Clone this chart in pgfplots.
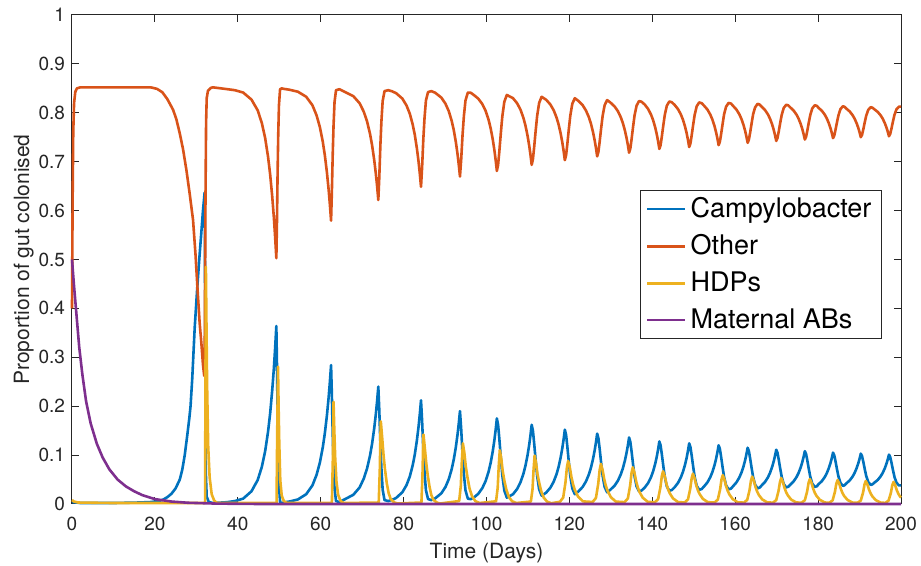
\documentclass[border=0pt]{standalone}
\usepackage{fontspec}
\setmainfont{TeX Gyre Heros}
\usepackage{pgfplots}
\pgfplotsset{compat=1.18}
\definecolor{mblue}{rgb}{0,0.447,0.741}
\definecolor{morange}{rgb}{0.85,0.325,0.098}
\definecolor{myellow}{rgb}{0.929,0.694,0.125}
\definecolor{mpurple}{rgb}{0.494,0.184,0.556}
\definecolor{axgray}{rgb}{0.15,0.15,0.15}
\begin{document}
\begin{tikzpicture}
\begin{axis}[
  at={(0,0)}, anchor=south west,
  scale only axis, width=414.5pt, height=244.5pt,
  xmin=0, xmax=200, ymin=0, ymax=1,
  xtick={0,20,...,200}, ytick={0,0.1,...,1},
  yticklabels={0,0.1,0.2,0.3,0.4,0.5,0.6,0.7,0.8,0.9,1},
  tick align=inside, major tick length=3.5pt,
  axis line style={axgray, line width=0.5pt},
  every tick/.style={axgray, line width=0.5pt},
  tick label style={font=\fontsize{9.5}{11}\selectfont, text=axgray},
  /pgf/number format/assume math mode=true,
  xticklabel style={yshift=-3pt},
  xlabel={Time (Days)},
  ylabel={Proportion of gut colonised},
  xlabel style={at={(axis description cs:0.5,0)}, anchor=north, yshift=-19.5pt, inner sep=0pt, font=\fontsize{10.5}{12}\selectfont, text=axgray},
  ylabel style={at={(axis description cs:0,0.5)}, rotate=0, anchor=south, yshift=19pt, inner sep=0pt, font=\fontsize{10.5}{12}\selectfont, text=axgray},
  clip=false,
  legend cell align=left,
  legend style={at={(0.977,0.642)}, anchor=north east, draw=axgray, line width=0.5pt, fill=white,
    font=\fontsize{13.5}{15}\selectfont, inner xsep=3pt, inner ysep=1.5pt, row sep=3pt},
  legend image code/.code={\draw[#1] (0pt,0pt) -- (19pt,0pt);},
  every axis plot/.append style={line width=1.3pt, line join=round},
]
\addplot[mblue] coordinates {
(0,0.004) (2,0.002) (10,0.002) (16,0.003) (19,0.004) (20,0.005) (21,0.006) (22,0.009) (23,0.014) (24,0.021) (25,0.032) (26,0.05) (26.6,0.07) (27.2,0.1) (27.8,0.14) (28.3,0.175) (28.6,0.2) (29,0.255) (29.6,0.36) (30.2,0.44) (30.7,0.5) (31.2,0.555) (31.6,0.6) (32,0.637) (32.1,0.45) (32.2,0.2) (32.3,0.06) (32.5,0.015) (33,0.004) (34,0.002)
(37.3,0.0036) (39.3,0.006) (41.3,0.011) (43.3,0.026) (44.8,0.049) (45.8,0.076) (46.6,0.108) (47.3,0.148) (47.8,0.185) (48.3,0.232) (48.7,0.277) (49,0.318) (49.3,0.364) (49.44,0.292) (49.6,0.183) (49.75,0.103) (49.93,0.038) (50.2,0.004) (50.6,0.002)
(51,0.003) (52.5,0.0051) (54.5,0.0093) (56.5,0.02) (58,0.038) (59,0.0595) (59.8,0.0846) (60.5,0.1157) (61,0.1447) (61.5,0.181) (61.9,0.2166) (62.2,0.248) (62.5,0.284) (62.68,0.228) (62.9,0.143) (63.1,0.081) (63.34,0.031) (63.7,0.006) (64.5,0.004)
(65.9,0.01) (67.9,0.019) (69.4,0.034) (70.4,0.0521) (71.2,0.0731) (71.9,0.099) (72.4,0.1234) (72.9,0.154) (73.3,0.1836) (73.6,0.2098) (73.9,0.24) (74.13,0.193) (74.4,0.123) (74.65,0.072) (74.95,0.029) (75.4,0.008) (76.3,0.006)
(77.2,0.0083) (78.2,0.0124) (79.7,0.024) (80.7,0.0385) (81.5,0.0563) (82.2,0.0793) (82.7,0.1011) (83.2,0.1296) (83.6,0.1576) (83.9,0.1828) (84.2,0.212) (84.46,0.171) (84.76,0.11) (85.05,0.065) (85.39,0.028) (85.9,0.01) (86.7,0.008)
(87.6,0.0114) (89.1,0.0218) (90.1,0.0348) (90.9,0.0507) (91.6,0.0712) (92.1,0.0908) (92.6,0.1161) (93,0.1413) (93.3,0.1639) (93.6,0.19) (93.89,0.154) (94.23,0.1) (94.55,0.0604) (94.93,0.028) (95.5,0.011) (96.2,0.01)
(97,0.0136) (98,0.0207) (99,0.0326) (99.8,0.0472) (100.5,0.066) (101,0.084) (101.5,0.1072) (101.9,0.1304) (102.2,0.151) (102.5,0.175) (102.8,0.162) (103.1,0.133) (103.46,0.094) (103.82,0.0584) (104.3,0.0276) (104.9,0.013)
(106.4,0.02) (107.4,0.0309) (108.2,0.0444) (108.9,0.0617) (109.4,0.0782) (109.9,0.0996) (110.3,0.1209) (110.6,0.1399) (110.9,0.162) (111.2,0.15) (111.5,0.124) (111.86,0.0895) (112.22,0.0576) (112.7,0.03) (113.3,0.017)
(114.4,0.0233) (115.4,0.0332) (116.2,0.0455) (116.9,0.0611) (117.4,0.0761) (117.9,0.0955) (118.3,0.1147) (118.6,0.132) (118.9,0.152) (119.2,0.1414) (119.5,0.1177) (119.86,0.086) (120.22,0.057) (120.7,0.0319) (121.3,0.02)
(122.2,0.0258) (123.2,0.0349) (124,0.0462) (124.7,0.0605) (125.2,0.0743) (125.7,0.0921) (126.1,0.1098) (126.4,0.1256) (126.7,0.144) (127,0.1344) (127.3,0.1128) (127.66,0.084) (128.02,0.0576) (128.5,0.0348) (129.1,0.024)
(129.9,0.0293) (130.9,0.0375) (131.7,0.0476) (132.4,0.0606) (132.9,0.073) (133.4,0.0891) (133.8,0.1051) (134.1,0.1194) (134.4,0.136) (134.7,0.1272) (135,0.1074) (135.36,0.081) (135.72,0.0568) (136.2,0.0359) (136.8,0.026)
(137.4,0.0275) (138.2,0.0338) (139,0.043) (139.7,0.0551) (140.2,0.0669) (140.7,0.0822) (141.1,0.0977) (141.4,0.1117) (141.7,0.128) (142,0.1199) (142.3,0.1017) (142.66,0.0775) (143.02,0.0553) (143.5,0.0361) (144.1,0.027)
(144.7,0.0285) (145.4,0.0344) (146.2,0.0432) (146.9,0.0547) (147.4,0.0659) (147.9,0.0804) (148.3,0.0951) (148.6,0.1085) (148.9,0.124) (149.2,0.1164) (149.5,0.0993) (149.86,0.0765) (150.22,0.0556) (150.7,0.0375) (151.3,0.029)
(151.9,0.0305) (152.5,0.036) (153.3,0.0442) (154,0.055) (154.5,0.0655) (155,0.0791) (155.4,0.0929) (155.7,0.1054) (156,0.12) (156.3,0.1128) (156.6,0.0966) (156.96,0.075) (157.32,0.0552) (157.8,0.0381) (158.4,0.03)
(159,0.0315) (159.5,0.0365) (160.3,0.0442) (161,0.0543) (161.5,0.0641) (162,0.0768) (162.4,0.0897) (162.7,0.1014) (163,0.115) (163.3,0.1084) (163.6,0.0934) (163.96,0.0735) (164.32,0.0552) (164.8,0.0395) (165.4,0.032)
(165.9,0.0335) (166.4,0.0381) (167.2,0.0452) (167.9,0.0545) (168.4,0.0637) (168.9,0.0755) (169.3,0.0875) (169.6,0.0984) (169.9,0.111) (170.2,0.1048) (170.5,0.091) (170.86,0.0725) (171.22,0.0556) (171.7,0.0409) (172.3,0.034)
(172.8,0.0352) (173.3,0.0397) (174.1,0.0464) (174.8,0.0551) (175.3,0.0637) (175.8,0.0748) (176.2,0.086) (176.5,0.0962) (176.8,0.108) (177.1,0.1022) (177.4,0.089) (177.76,0.0715) (178.12,0.0554) (178.6,0.0416) (179.2,0.035)
(179.7,0.0362) (180.1,0.0404) (180.9,0.0467) (181.6,0.055) (182.1,0.063) (182.6,0.0736) (183,0.0842) (183.3,0.0938) (183.6,0.105) (183.9,0.0996) (184.2,0.0873) (184.56,0.071) (184.92,0.056) (185.4,0.0431) (186,0.037)
(186.4,0.0385) (186.8,0.0421) (187.6,0.048) (188.3,0.0558) (188.8,0.0634) (189.3,0.0734) (189.7,0.0834) (190,0.0924) (190.3,0.103) (190.6,0.0979) (190.9,0.0864) (191.26,0.071) (191.62,0.0569) (192.1,0.0448) (192.7,0.039)
(193.1,0.0402) (193.6,0.0438) (194.4,0.0493) (195.1,0.0567) (195.6,0.0638) (196.1,0.0732) (196.5,0.0826) (196.8,0.0911) (197.1,0.101) (197.4,0.096) (197.7,0.0846) (198.06,0.0695) (198.42,0.0556) (198.9,0.0437) (199.5,0.038) (200,0.038)
};
\addlegendentry{Campylobacter}
\addplot[morange] coordinates {
(0,0.40) (0.15,0.62) (0.3,0.76) (0.5,0.82) (0.8,0.843) (1.2,0.85) (2,0.852) (19,0.852) (20.5,0.849) (21.8,0.842) (23,0.828) (24.4,0.806) (25.2,0.786) (26,0.758) (26.8,0.725) (27.6,0.683) (28.4,0.634) (29.2,0.581) (29.8,0.51) (30.3,0.437) (30.8,0.37) (31.2,0.33) (31.6,0.285) (31.9,0.262) (32.05,0.35) (32.2,0.62) (32.35,0.78) (32.5,0.83) (32.8,0.845) (33.5,0.851) (34,0.852)
(37.3,0.8485) (39.3,0.8462) (41.3,0.8414) (43.3,0.827) (44.8,0.805) (45.8,0.779) (46.6,0.7483) (47.3,0.71) (47.8,0.6744) (48.3,0.6293) (48.7,0.586) (49,0.5467) (49.3,0.5026) (49.44,0.5717) (49.6,0.6763) (49.75,0.7531) (49.93,0.8155) (50.2,0.8482) (50.6,0.85)
(51,0.8491) (52.5,0.8471) (54.5,0.8431) (56.5,0.8328) (58,0.8155) (59,0.7949) (59.8,0.7708) (60.5,0.7409) (61,0.7131) (61.5,0.6782) (61.9,0.6441) (62.2,0.6139) (62.5,0.5794) (62.68,0.6331) (62.9,0.7147) (63.1,0.7742) (63.34,0.8222) (63.7,0.8462) (64.5,0.8482)
(65.9,0.8424) (67.9,0.8338) (69.4,0.8194) (70.4,0.802) (71.2,0.7818) (71.9,0.757) (72.4,0.7335) (72.9,0.7042) (73.3,0.6757) (73.6,0.6506) (73.9,0.6216) (74.13,0.6667) (74.4,0.7339) (74.65,0.7829) (74.95,0.8242) (75.4,0.8443) (76.3,0.8462)
(77.2,0.844) (78.2,0.8401) (79.7,0.829) (80.7,0.815) (81.5,0.798) (82.2,0.7759) (82.7,0.755) (83.2,0.7276) (83.6,0.7007) (83.9,0.6765) (84.2,0.6485) (84.46,0.6878) (84.76,0.7464) (85.05,0.7896) (85.39,0.8251) (85.9,0.8424) (86.7,0.8443)
(87.6,0.8411) (89.1,0.8311) (90.1,0.8186) (90.9,0.8033) (91.6,0.7836) (92.1,0.7648) (92.6,0.7405) (93,0.7164) (93.3,0.6947) (93.6,0.6696) (93.89,0.7042) (94.23,0.756) (94.55,0.794) (94.93,0.8251) (95.5,0.8414) (96.2,0.841)
(97,0.836) (98,0.8291) (99,0.8177) (99.8,0.8037) (100.5,0.7856) (101,0.7684) (101.5,0.7461) (101.9,0.7238) (102.2,0.704) (102.5,0.681) (102.8,0.6935) (103.1,0.7213) (103.46,0.7588) (103.82,0.7929) (104.3,0.8225) (104.9,0.8365)
(106.4,0.8298) (107.4,0.8193) (108.2,0.8064) (108.9,0.7898) (109.4,0.7739) (109.9,0.7534) (110.3,0.7329) (110.6,0.7147) (110.9,0.6935) (111.2,0.705) (111.5,0.73) (111.86,0.7631) (112.22,0.7937) (112.7,0.8202) (113.3,0.8327)
(114.4,0.8266) (115.4,0.8171) (116.2,0.8053) (116.9,0.7903) (117.4,0.7759) (117.9,0.7573) (118.3,0.7389) (118.6,0.7223) (118.9,0.7031) (119.2,0.7133) (119.5,0.736) (119.86,0.7664) (120.22,0.7943) (120.7,0.8184) (121.3,0.8298)
(122.2,0.8242) (123.2,0.8155) (124,0.8046) (124.7,0.7909) (125.2,0.7777) (125.7,0.7606) (126.1,0.7436) (126.4,0.7284) (126.7,0.7108) (127,0.72) (127.3,0.7407) (127.66,0.7684) (128.02,0.7937) (128.5,0.8156) (129.1,0.826)
(129.9,0.8209) (130.9,0.813) (131.7,0.8033) (132.4,0.7908) (132.9,0.7789) (133.4,0.7635) (133.8,0.7481) (134.1,0.7344) (134.4,0.7184) (134.7,0.7269) (135,0.7459) (135.36,0.7712) (135.72,0.7945) (136.2,0.8145) (136.8,0.824)
(137.4,0.8226) (138.2,0.8166) (139,0.8077) (139.7,0.7961) (140.2,0.7848) (140.7,0.7701) (141.1,0.7552) (141.4,0.7418) (141.7,0.7261) (142,0.7339) (142.3,0.7514) (142.66,0.7746) (143.02,0.7959) (143.5,0.8143) (144.1,0.8231)
(144.7,0.8216) (145.4,0.816) (146.2,0.8075) (146.9,0.7965) (147.4,0.7857) (147.9,0.7718) (148.3,0.7577) (148.6,0.7448) (148.9,0.73) (149.2,0.7373) (149.5,0.7537) (149.86,0.7756) (150.22,0.7956) (150.7,0.813) (151.3,0.8212)
(151.9,0.8197) (152.5,0.8144) (153.3,0.8066) (154,0.7962) (154.5,0.7861) (155,0.7731) (155.4,0.7598) (155.7,0.7478) (156,0.7338) (156.3,0.7407) (156.6,0.7563) (156.96,0.777) (157.32,0.797) (157.8,0.8124) (158.4,0.8202)
(159,0.8188) (159.5,0.814) (160.3,0.8066) (161,0.7969) (161.5,0.7875) (162,0.7753) (162.4,0.7629) (162.7,0.7517) (163,0.7386) (163.3,0.7449) (163.6,0.7593) (163.96,0.7784) (164.32,0.797) (164.8,0.8111) (165.4,0.8183)
(165.9,0.8168) (166.4,0.8124) (167.2,0.8056) (167.9,0.7967) (168.4,0.7878) (168.9,0.7765) (169.3,0.765) (169.6,0.7545) (169.9,0.7424) (170.2,0.7484) (170.5,0.7616) (170.86,0.7794) (171.22,0.7956) (171.7,0.8097) (172.3,0.8164)
(172.8,0.8152) (173.3,0.8109) (174.1,0.8045) (174.8,0.7961) (175.3,0.7878) (175.8,0.7772) (176.2,0.7664) (176.5,0.7566) (176.8,0.7453) (177.1,0.7509) (177.4,0.7636) (177.76,0.7804) (178.12,0.7958) (178.6,0.8091) (179.2,0.8154)
(179.7,0.8142) (180.1,0.8102) (180.9,0.8042) (181.6,0.7962) (182.1,0.7885) (182.6,0.7783) (183,0.7682) (183.3,0.759) (183.6,0.7482) (183.9,0.7534) (184.2,0.7652) (184.56,0.7808) (184.92,0.7952) (185.4,0.8076) (186,0.8135)
(186.4,0.8120) (186.8,0.8086) (187.6,0.8029) (188.3,0.7954) (188.8,0.7881) (189.3,0.7785) (189.7,0.7689) (190,0.7603) (190.3,0.7501) (190.6,0.755) (190.9,0.766) (191.26,0.7808) (191.62,0.7944) (192.1,0.806) (192.7,0.8116)
(193.1,0.8104) (193.6,0.807) (194.4,0.8017) (195.1,0.7946) (195.6,0.7878) (196.1,0.7787) (196.5,0.7697) (196.8,0.7615) (197.1,0.752) (197.4,0.7568) (197.7,0.7678) (198.06,0.7823) (198.42,0.7956) (198.9,0.807) (199.5,0.8125) (200,0.8125)
};
\addlegendentry{Other}
\addplot[myellow] coordinates {
(0,0.008) (0.5,0.005) (1.5,0.003) (10,0.002) (32.1,0.002) (32.2,0.25) (32.3,0.485) (32.45,0.36) (32.6,0.24) (32.85,0.12) (33.2,0.055) (33.7,0.02) (34.3,0.007) (35,0.002)
(49.35,0.002) (49.5,0.14) (49.7,0.281) (49.85,0.197) (50,0.126) (50.25,0.048) (50.6,0.017) (51.1,0.006) (51.9,0.002)
(62.7,0.002) (62.95,0.1) (63.1,0.209) (63.3,0.146) (63.5,0.094) (63.8,0.046) (64.2,0.019) (64.8,0.006) (65.6,0.002)
(74,0.003) (74.25,0.068) (74.4,0.135) (74.5,0.169) (74.8,0.139) (75.15,0.101) (75.5,0.071) (75.95,0.042) (76.4,0.022) (76.9,0.01) (77.7,0.0034) (78.5,0.001)
(84.3,0.003) (84.55,0.057) (84.7,0.114) (84.8,0.142) (85.1,0.116) (85.45,0.085) (85.8,0.06) (86.25,0.0355) (86.7,0.018) (87.2,0.0085) (88,0.003) (88.8,0.001)
(93.4,0.006) (93.8,0.037) (94.05,0.087) (94.3,0.124) (94.65,0.105) (95,0.077) (95.4,0.055) (95.9,0.032) (96.5,0.016) (97.3,0.006) (98.3,0.002)
(102.3,0.0055) (102.7,0.033) (102.95,0.077) (103.2,0.11) (103.55,0.0935) (103.9,0.068) (104.3,0.048) (104.8,0.029) (105.4,0.014) (106.2,0.0055) (107.2,0.002)
(110.7,0.005) (111.1,0.03) (111.35,0.069) (111.6,0.099) (111.95,0.084) (112.3,0.061) (112.7,0.044) (113.2,0.026) (113.8,0.013) (114.6,0.005) (115.6,0.0015)
(117.7,0.0044) (118.5,0.0132) (119.05,0.044) (119.4,0.075) (119.7,0.088) (120.1,0.075) (120.5,0.0546) (120.9,0.0396) (121.3,0.029) (122.1,0.015) (123.3,0.0053)
(125.6,0.0041) (126.4,0.0123) (126.95,0.041) (127.3,0.0697) (127.6,0.082) (128,0.0697) (128.4,0.0508) (128.8,0.0369) (129.2,0.0271) (130,0.0139) (131.2,0.0049)
(133.3,0.0038) (134.1,0.0113) (134.65,0.0375) (135,0.0638) (135.3,0.075) (135.7,0.0638) (136.1,0.0465) (136.5,0.0338) (136.9,0.0248) (137.7,0.0128) (138.9,0.0045)
(140.6,0.0034) (141.4,0.01) (141.95,0.0335) (142.3,0.057) (142.6,0.067) (143,0.057) (143.4,0.0415) (143.8,0.0302) (144.2,0.0221) (145,0.0114) (146.2,0.004)
(147.8,0.0031) (148.6,0.0093) (149.15,0.031) (149.5,0.0527) (149.8,0.062) (150.2,0.0527) (150.6,0.0384) (151,0.0279) (151.4,0.0205) (152.2,0.0105) (153.4,0.0037)
(155,0.003) (155.8,0.0089) (156.35,0.0295) (156.7,0.0502) (157,0.059) (157.4,0.0502) (157.8,0.0366) (158.2,0.0266) (158.6,0.0195) (159.4,0.01) (160.6,0.0035)
(162.1,0.0028) (162.9,0.0084) (163.45,0.028) (163.8,0.0476) (164.1,0.056) (164.5,0.0476) (164.9,0.0347) (165.3,0.0252) (165.7,0.0185) (166.5,0.0095) (167.7,0.0034)
(169.1,0.0027) (169.9,0.008) (170.45,0.0265) (170.8,0.045) (171.1,0.053) (171.5,0.045) (171.9,0.0329) (172.3,0.0239) (172.7,0.0175) (173.5,0.009) (174.7,0.0032)
(176,0.0026) (176.8,0.0077) (177.35,0.0255) (177.7,0.0434) (178,0.051) (178.4,0.0434) (178.8,0.0316) (179.2,0.023) (179.6,0.0168) (180.4,0.0087) (181.6,0.0031)
(182.7,0.0025) (183.5,0.0074) (184.05,0.0245) (184.4,0.0417) (184.7,0.049) (185.1,0.0417) (185.5,0.0304) (185.9,0.0221) (186.3,0.0162) (187.1,0.0083) (188.3,0.0029)
(189.5,0.0024) (190.3,0.0071) (190.85,0.0235) (191.2,0.04) (191.5,0.047) (191.9,0.04) (192.3,0.0291) (192.7,0.0212) (193.1,0.0155) (193.9,0.008) (195.1,0.0028)
(196.2,0.0023) (197,0.0068) (197.55,0.0225) (197.9,0.0383) (198.2,0.045) (198.6,0.0383) (199,0.0279) (199.4,0.0203) (199.8,0.0149) (200,0.013)
};
\addlegendentry{HDPs}
\addplot[mpurple] coordinates {
(0,0.5) (0.5,0.445) (1,0.395) (1.75,0.32) (2.5,0.265) (3.4,0.21) (4.5,0.165) (6,0.123) (7.4,0.095) (9,0.071) (11,0.05) (13,0.036) (15,0.026) (17,0.018) (20,0.01) (24,0.005) (28,0.0025) (35,0.0008) (45,0) (200,0)
};
\addlegendentry{Maternal ABs}
\end{axis}
\pgfresetboundingbox
\path[use as bounding box] (-36pt,-31pt) rectangle (424.5pt,252pt);
\end{tikzpicture}
\end{document}
